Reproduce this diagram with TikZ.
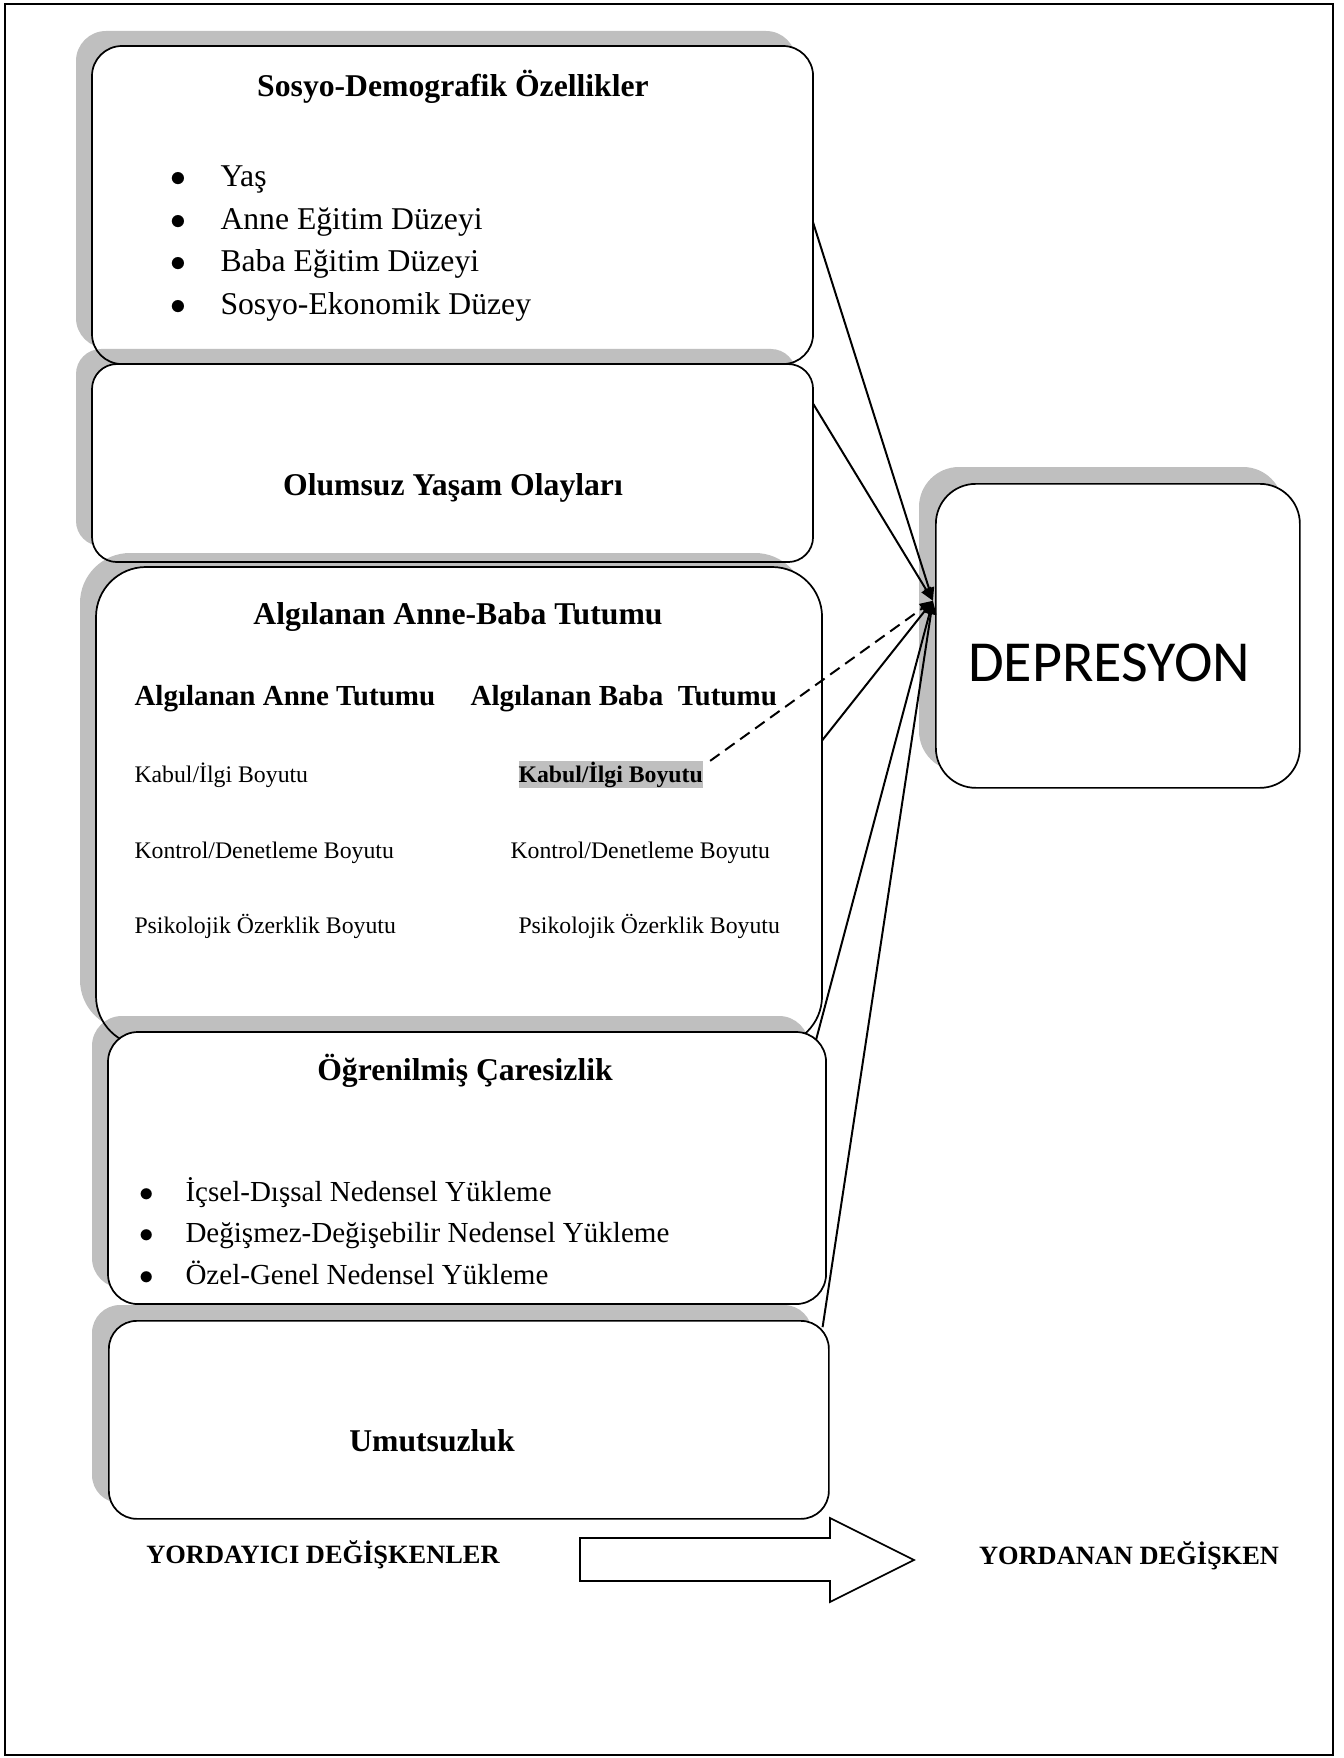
\documentclass[tikz,border=0pt]{standalone}
\usepackage{fontspec}
\setmainfont{Liberation Serif}
\newfontfamily\calibri{Carlito}
\usepackage{tikz}
\usetikzlibrary{arrows.meta}

\newcommand{\upx}{0.3788pt}
\newcommand{\dotitem}[1]{\llap{$\bullet$\hspace{#1}}}

\begin{document}
\begin{tikzpicture}[
    x=\upx, y=-\upx,
    panel/.style={fill=white, anchor=north west, inner sep=0pt},
    rim/.style  ={draw=black, line width=0.65pt},
    shade/.style={fill=black!25},
    head/.style ={font=\fontsize{12}{14}\selectfont\bfseries, anchor=base, inner sep=0pt},
    sub/.style  ={font=\fontsize{11}{13}\selectfont\bfseries, anchor=base west, inner sep=0pt},
    item/.style ={font=\fontsize{12}{14}\selectfont, anchor=base west, inner sep=0pt},
    dim/.style  ={font=\fontsize{9}{11}\selectfont, anchor=base west, inner sep=0pt},
    foot/.style ={font=\fontsize{10}{12}\selectfont\bfseries, anchor=base, inner sep=0pt},
    link/.style ={draw=black, line width=0.75pt, -{Triangle[length=5pt, width=4pt]}}
  ]
  \useasboundingbox (0,0) rectangle (1344,1758);
  \draw[line width=1pt] (5,4) rectangle (1333,1755);

  %% ---- predictor boxes (shadow, then outline of the box above) ------
  \fill[shade, rounded corners=30*\upx] (76,31) rectangle (796,348);
  \node[panel, rounded corners=30*\upx, minimum width=720*\upx, minimum height=317*\upx] (sosyo) at (92,46) {};
  \fill[shade, rounded corners=25*\upx] (76,349) rectangle (796,546);
  \draw[rim, rounded corners=30*\upx] (sosyo.north west) rectangle (sosyo.south east);
  \node[panel, rounded corners=25*\upx, minimum width=720*\upx, minimum height=197*\upx] (olay) at (92,364) {};
  \fill[shade, rounded corners=50*\upx] (80,553) rectangle (805,1030);
  \draw[rim, rounded corners=25*\upx] (olay.north west) rectangle (olay.south east);
  \node[panel, rounded corners=50*\upx, minimum width=725*\upx, minimum height=478*\upx] (tutum) at (96,567) {};
  \fill[shade, rounded corners=30*\upx] (92,1016) rectangle (809,1288);
  \draw[rim, rounded corners=50*\upx] (tutum.north west) rectangle (tutum.south east);
  \node[panel, rounded corners=30*\upx, minimum width=717*\upx, minimum height=271*\upx] (ogren) at (108,1032) {};
  \fill[shade, rounded corners=28*\upx] (92,1305) rectangle (812,1503);
  \draw[rim, rounded corners=30*\upx] (ogren.north west) rectangle (ogren.south east);
  \node[panel, rim, rounded corners=28*\upx, minimum width=720*\upx, minimum height=198*\upx] (umut) at (108,1320) {};

  %% ---- outcome box ---------------------------------------------------
  \fill[shade, rounded corners=40*\upx] (919,467) rectangle (1283,771);
  \node[panel, rim, rounded corners=40*\upx, minimum width=364*\upx, minimum height=304*\upx] (dep) at (935,483) {};
  \node[font=\calibri\fontsize{22}{26}\selectfont, anchor=base, inner sep=0pt] (deptxt) at (1109,681) {DEPRESYON};
  \coordinate (tip) at ([xshift=-0.8pt, yshift=13.3pt]dep.west);

  %% ---- texts -----------------------------------------------------------
  \node[head] (sosyoT) at (453,97) {Sosyo-Demografik Özellikler};
  \node[item] (yas)   at (220,186.7) {\dotitem{12.9pt}Yaş};
  \node[item] (anneE) at (220,229.3) {\dotitem{12.9pt}Anne Eğitim Düzeyi};
  \node[item] (babaE) at (220,272)   {\dotitem{12.9pt}Baba Eğitim Düzeyi};
  \node[item] (sed)   at (220,314.7) {\dotitem{12.9pt}Sosyo-Ekonomik Düzey};

  \node[head] (olayT) at (453,495) {Olumsuz Yaşam Olayları};

  \node[head] (tutumT) at (458,624.6) {Algılanan Anne-Baba Tutumu};
  \node[sub] (anneT) at (134,705.8) {Algılanan Anne Tutumu};
  \node[sub] (babaT) at (470,705.8) {Algılanan Baba\ \ Tutumu};
  \node[dim] (kabulA) at (134,782)   {Kabul/İlgi Boyutu};
  \node[dim, font=\fontsize{9}{11}\selectfont\bfseries, fill=black!25, text height=7.8pt, text depth=2.3pt]
        (kabulB) at (518,782) {Kabul/İlgi Boyutu};
  \node[dim] (kontA)  at (134,858.4) {Kontrol/Denetleme Boyutu};
  \node[dim] (kontB)  at (510,858.4) {Kontrol/Denetleme Boyutu};
  \node[dim] (psiA)   at (134,933)   {Psikolojik Özerklik Boyutu};
  \node[dim] (psiB)   at (518,933)   {Psikolojik Özerklik Boyutu};

  \node[head] (ogrenT) at (465,1080.4) {Öğrenilmiş Çaresizlik};
  \node[item, font=\fontsize{11}{13}\selectfont] (icsel)  at (185,1201.8) {\dotitem{12pt}İçsel-Dışsal Nedensel Yükleme};
  \node[item, font=\fontsize{11}{13}\selectfont] (degis)  at (185,1242.9) {\dotitem{12pt}Değişmez-Değişebilir Nedensel Yükleme};
  \node[item, font=\fontsize{11}{13}\selectfont] (ozel)   at (185,1284)   {\dotitem{12pt}Özel-Genel Nedensel Yükleme};

  \node[head] (umutT) at (432,1451.8) {Umutsuzluk};

  %% ---- connectors --------------------------------------------------
  \draw[link] ([yshift=-6.6pt]sosyo.east) -- (tip);
  \draw[link] ([yshift=22.5pt]olay.east) -- (tip);
  \draw[link] ([yshift=25pt]tutum.east) -- (tip);
  \draw[link] ([xshift=-3.8pt, yshift=-3pt]ogren.north east) -- (tip);
  \draw[link] ([xshift=-2.7pt, yshift=-2.7pt]umut.north east) -- (tip);
  \draw[link, dash pattern=on 4.4pt off 2.6pt] ([xshift=2.6pt]kabulB.north east) -- (tip);

  %% ---- bottom legend -------------------------------------------------
  \node[foot] (yordayici) at (323,1563) {YORDAYICI DEĞİŞKENLER};
  \draw[rim] (580,1538) -- (830,1538) -- (830,1518) -- (914,1560)
             -- (830,1602) -- (830,1581) -- (580,1581) -- cycle;
  \node[foot] (yordanan) at (1129,1564) {YORDANAN DEĞİŞKEN};

\end{tikzpicture}
\end{document}
